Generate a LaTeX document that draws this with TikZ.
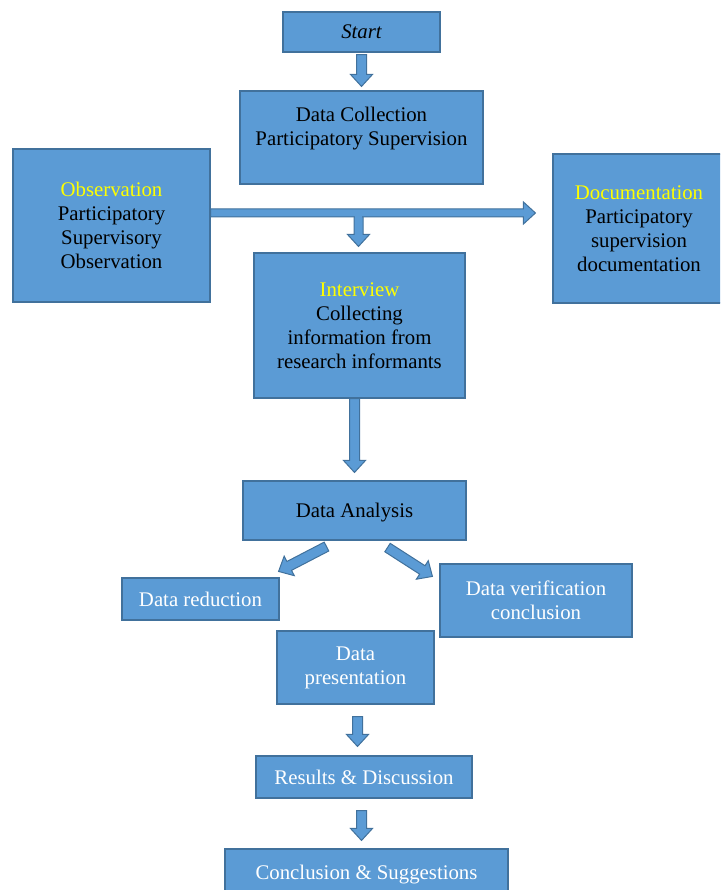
\documentclass[tikz,border=0pt]{standalone}
\usepackage{fontspec}
\setmainfont{Liberation Serif}
\usetikzlibrary{calc}
\definecolor{boxfill}{HTML}{5B9BD5}
\definecolor{boxline}{HTML}{41719C}
\definecolor{hl}{HTML}{FFFF00}
\tikzset{
  box/.style={draw=boxline, fill=boxfill, line width=1.1pt, inner sep=0pt,
    align=center, font=\fontsize{20.8}{24}\selectfont},
  dark/.style={text=black},
  light/.style={text=white},
  arrowbody/.style={draw=boxline, fill=boxfill, line width=1pt, line join=miter},
}
\newdimen\bax \newdimen\bay
\makeatletter
\newcommand\blockarrow[3][5]{%
  \pgfpointdiff{\pgfpointanchor{#2}{center}}{\pgfpointanchor{#3}{center}}%
  \bax=\pgf@x \bay=\pgf@y
  \pgfmathsetmacro\balen{veclen(\bax,\bay)}%
  \pgfmathsetmacro\baang{atan2(\bay,\bax)}%
  \begin{scope}[shift={(#2)},rotate=\baang]
    \draw[arrowbody] (0pt,-#1pt) -- ({\balen pt-12pt},-#1pt) -- ({\balen pt-12pt},-11pt)
      -- (\balen pt,0pt) -- ({\balen pt-12pt},11pt) -- ({\balen pt-12pt},#1pt)
      -- (0pt,#1pt) -- cycle;
  \end{scope}}
\makeatother
\begin{document}
\begin{tikzpicture}[x=1pt,y=-1pt]
\useasboundingbox (0,0) rectangle (720,890);
\clip (0,0) rectangle (720,890);
% boxes
\node[box,dark,minimum width=157pt,minimum height=40pt] (start) at (361.5,32) {\itshape Start};
\node[box,minimum width=243pt,minimum height=93pt] (dc) at (361.5,137.5) {};
\node[dark,align=center,font=\fontsize{20.8}{24}\selectfont] (dctext) at ($(dc.center)+(0,-8.5)$) {Data Collection\\Participatory Supervision};
\node[box,dark,minimum width=197pt,minimum height=153pt] (obs) at (111.5,225.5)
  {\textcolor{hl}{Observation}\\Participatory\\Supervisory\\Observation};
\node[box,dark,minimum width=172pt,minimum height=149pt] (doc) at (639,228.5)
  {\textcolor{hl}{Documentation}\\Participatory\\supervision\\documentation};
\node[box,dark,minimum width=211pt,minimum height=145pt] (iv) at (359.5,325.5)
  {\textcolor{hl}{Interview}\\Collecting\\information from\\research informants};
\node[box,dark,minimum width=223pt,minimum height=59pt] (da) at (354.5,510.5) {};
\node[dark,font=\fontsize{20.8}{24}\selectfont] (datext) at (354.5,512.5) {Data Analysis};
\node[box,light,minimum width=157pt,minimum height=42pt] (red) at (200.5,599) {Data reduction};
\node[box,light,minimum width=192pt,minimum height=73pt] (ver) at (536,600.5) {Data verification\\conclusion};
\node[box,light,minimum width=157pt,minimum height=73pt] (pres) at (355.5,667.5) {Data\\presentation};
\node[box,light,minimum width=216pt,minimum height=42pt] (res) at (364,777) {Results \& Discussion};
\node[box,light,minimum width=283pt,minimum height=46pt] (conc) at (366.5,872) {};
\node[light,font=\fontsize{20.8}{24}\selectfont] (conctext) at (366.5,874.5) {Conclusion \& Suggestions};
% arrow end points
\coordinate (a1s) at ($(start.south)+(0,2)$);
\coordinate (a1e) at ($(dc.north)+(0,-4)$);
\coordinate (h1) at ([yshift=12.5pt]obs.east);
\coordinate (h2) at ($(doc.west |- h1)+(-17,0)$);
\coordinate (b2) at ($(iv.north)+(-1,-6)$);
\coordinate (b1) at (b2 |- h1);
\coordinate (c1) at (da.north |- iv.south);
\coordinate (c2) at ($(da.north)+(0,-8)$);
\coordinate (d1) at ($(da.south)+(-28,6)$);
\coordinate (d2) at ($(red.north east)+(-1,-6)$);
\coordinate (e1) at ($(da.south)+(33,7)$);
\coordinate (e2) at ($(ver.north west)+(-7,13)$);
\coordinate (f1) at ($(pres.south)+(2,12)$);
\coordinate (f2) at ($(res.north)+(-6.5,-9)$);
\coordinate (g1) at ($(res.south)+(-2.5,12)$);
\coordinate (g2) at ($(conc.north)+(-5,-8)$);
% arrows
\blockarrow{a1s}{a1e}
\blockarrow[4.5]{b1}{b2}
\blockarrow[4]{h1}{h2}
\fill[boxfill] ($(b1)+(-3.9,2)$) rectangle ($(b1)+(3.9,6)$);
\blockarrow{c1}{c2}
\blockarrow{d1}{d2}
\blockarrow{e1}{e2}
\blockarrow{f1}{f2}
\blockarrow{g1}{g2}
\end{tikzpicture}
\end{document}
